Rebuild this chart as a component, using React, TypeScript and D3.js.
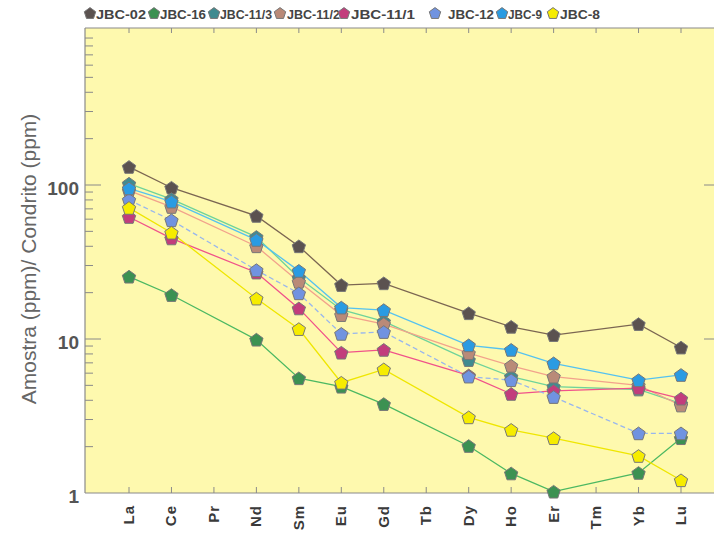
import React from "react";
import * as d3 from "d3";

const categories = ["La", "Ce", "Pr", "Nd", "Sm", "Eu", "Gd", "Tb", "Dy", "Ho", "Er", "Tm", "Yb", "Lu"];

const seriesNames = ["JBC-02", "JBC-16", "JBC-11/3", "JBC-11/2", "JBC-11/1", "JBC-12", "JBC-9", "JBC-8"];

const jbc02 = [131, 96, null, 63, 40, 22.4, 23, null, 14.7, 12.0, 10.6, null, 12.5, 8.8];
const jbc16 = [25.4, 19.3, null, 9.9, 5.56, 4.9, 3.78, null, 2.02, 1.34, 1.02, null, 1.35, 2.27];
const jbc113 = [102, 81, null, 46, 25, 15.5, 13, null, 7.3, 5.7, 4.9, null, 4.7, 3.8];
const jbc112 = [92, 72, null, 40, 23.5, 14.3, 12.5, null, 8.1, 6.7, 5.7, null, 5.0, 3.7];
const jbc111 = [62, 45, null, 27, 15.8, 8.15, 8.5, null, 5.8, 4.4, 4.6, null, 4.8, 4.1];
const jbc12 = [80, 59, null, 28, 19.8, 10.8, 11.1, null, 5.7, 5.4, 4.2, null, 2.44, 2.44];
const jbc9 = [95, 78, null, 44, 27.7, 16, 15.4, null, 9.1, 8.5, 6.95, null, 5.4, 5.84];
const jbc8 = [71, 49, null, 18.3, 11.6, 5.2, 6.35, null, 3.1, 2.57, 2.27, null, 1.74, 1.21];

const seriesValues = [jbc02, jbc16, jbc113, jbc112, jbc111, jbc12, jbc9, jbc8];

const markerColors = ["#5b5250", "#3c9152", "#3f8b90", "#b98a78", "#c23d7c", "#7093e0", "#2a9be2", "#f6ec00"];
const lineColors = ["#7b6652", "#4cb862", "#6fd39a", "#f2a28c", "#f0528a", "#98b6ee", "#55c2f0", "#efe600"];
const lineDash = [null, null, null, null, null, "5,3", null, null];

const yTickLabels = ["1", "10", "100"];
const yTickValues = [1, 10, 100];

const legendX = [90, 154, 214, 280, 344, 435, 502, 553];
const legendTextX = [96, 160, 220, 287, 351, 448, 508, 560];
const legendTextW = [50, 46, 52, 53, 64, 46, 34, 40];

const W = 714;
const H = 540;
const left = 85;
const top = 28;
const bottom = 493;
const right = 720;

function pentagon(cx: number, cy: number, r: number) {
  const pts: [number, number][] = [];
  for (let i = 0; i < 5; i++) {
    const a = -Math.PI / 2 + (i * 2 * Math.PI) / 5;
    pts.push([cx + r * Math.cos(a), cy + r * Math.sin(a) + r * 0.1]);
  }
  return "M" + pts.map((p) => p[0].toFixed(2) + "," + p[1].toFixed(2)).join("L") + "Z";
}

export default function App() {
  const x = d3.scalePoint<string>().domain(categories).range([129, 681]);
  const y = d3.scaleLog().domain([1, 1000]).range([493, 31]);

  const minorTicks: number[] = [];
  for (const dec of [1, 10, 100]) {
    for (let k = 2; k <= 9; k++) minorTicks.push(dec * k);
  }

  const line = d3
    .line<{ c: string; v: number }>()
    .x((d) => x(d.c) as number)
    .y((d) => y(d.v));

  const seriesPts = seriesValues.map((vals) =>
    vals
      .map((v, i) => ({ c: categories[i], v: v as number }))
      .filter((d) => d.v !== null && d.v !== undefined)
  );

  return (
    <svg
      width={W}
      height={H}
      style={{ position: "absolute", left: 0, top: 0, background: "#ffffff" }}
      fontFamily="Liberation Sans, Arial, sans-serif"
    >
      <rect x={left} y={top} width={right - left} height={bottom - top} fill="#fef9ae" />
      {/* frame */}
      <line x1={left} x2={right} y1={top} y2={top} stroke="#8a8a8a" strokeWidth={1.2} />
      <line x1={left} x2={right} y1={bottom} y2={bottom} stroke="#8a8a8a" strokeWidth={1.2} />
      <line x1={left} x2={left} y1={top} y2={bottom} stroke="#8a8a8a" strokeWidth={1.2} />

      {/* x ticks */}
      {categories.map((c) => (
        <g key={"xt" + c}>
          <line x1={x(c)} x2={x(c)} y1={bottom} y2={bottom - 6} stroke="#8a8a8a" />
          <line x1={x(c)} x2={x(c)} y1={top} y2={top + 5} stroke="#8a8a8a" />
          <text
            transform={`translate(${(x(c) as number) + 5},505) rotate(-90)`}
            textAnchor="end"
            fontSize={15}
            fontWeight="bold"
            fill="#3a3a3a"
            letterSpacing={1}
          >
            {c}
          </text>
        </g>
      ))}

      {/* y ticks */}
      {minorTicks.map((t) => (
        <line key={"mt" + t} x1={left} x2={left + 8} y1={y(t)} y2={y(t)} stroke="#8a8a8a" />
      ))}
      {[10, 100].map((t) => (
        <g key={"Mt" + t}>
          <line x1={left} x2={left + 16} y1={y(t)} y2={y(t)} stroke="#8a8a8a" />
          <line x1={W - 10} x2={W} y1={y(t)} y2={y(t)} stroke="#8a8a8a" />
        </g>
      ))}
      {yTickValues.map((t, i) => (
        <text
          key={"yl" + t}
          x={79}
          y={y(t) + 10}
          textAnchor="end"
          fontSize={19}
          fontWeight="bold"
          fill="#555"
        >
          {yTickLabels[i]}
        </text>
      ))}

      <text
        transform={`translate(36,259) rotate(-90)`}
        textAnchor="middle"
        fontSize={21}
        fill="#666"
        fontWeight={500}
      >
        Amostra (ppm)/ Condrito (ppm)
      </text>

      {/* lines */}
      {seriesPts.map((pts, si) => (
        <path
          key={"l" + si}
          d={line(pts) || ""}
          fill="none"
          stroke={lineColors[si]}
          strokeWidth={1.3}
          strokeDasharray={lineDash[si] || undefined}
        />
      ))}

      {/* markers */}
      {seriesPts.map((pts, si) => (
        <g key={"m" + si}>
          {pts.map((d) => (
            <path
              key={d.c}
              d={pentagon(x(d.c) as number, y(d.v), 7)}
              fill={markerColors[si]}
              stroke="#777"
              strokeWidth={1}
            />
          ))}
        </g>
      ))}

      {/* legend */}
      {seriesNames.map((n, i) => (
        <g key={"lg" + n}>
          <path d={pentagon(legendX[i], 13, 6)} fill={markerColors[i]} stroke="#777" strokeWidth={1} />
          <text
            x={legendTextX[i]}
            y={19}
            fontSize={13}
            fontWeight="bold"
            fill="#444"
            textLength={legendTextW[i]}
            lengthAdjust="spacingAndGlyphs"
          >
            {n}
          </text>
        </g>
      ))}
    </svg>
  );
}
